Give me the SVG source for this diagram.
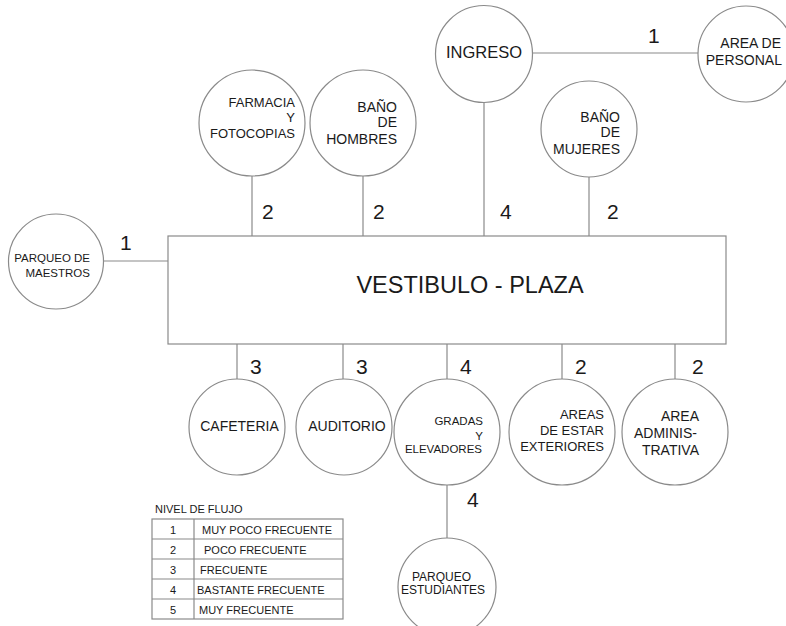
<svg xmlns="http://www.w3.org/2000/svg" width="786" height="626" viewBox="0 0 786 626">
<style>
.c{fill:#fff;stroke:#8a8a8a;stroke-width:1.2}
.l{stroke:#8a8a8a;stroke-width:1.2;fill:none}
text{font-family:"Liberation Sans",Arial,sans-serif;fill:#1a1a1a}
.n{font-size:21px}
.r{text-anchor:end}
.m{text-anchor:middle}
.lg{font-size:11px}
</style>
<rect width="786" height="626" fill="#fff"/>
<g id="connectors">
<line class="l" x1="252" y1="176" x2="252" y2="236"/>
<line class="l" x1="363" y1="176" x2="363" y2="236"/>
<line class="l" x1="484" y1="102" x2="484" y2="236"/>
<line class="l" x1="589" y1="177" x2="589" y2="236"/>
<line class="l" x1="533" y1="53" x2="698" y2="53"/>
<line class="l" x1="103" y1="261" x2="168" y2="261"/>
<line class="l" x1="237" y1="344" x2="237" y2="379"/>
<line class="l" x1="343" y1="344" x2="343" y2="379"/>
<line class="l" x1="447" y1="344" x2="447" y2="379"/>
<line class="l" x1="562" y1="344" x2="562" y2="379"/>
<line class="l" x1="675" y1="344" x2="675" y2="379"/>
<line class="l" x1="447" y1="485" x2="447" y2="538"/>
<text class="n" x="262" y="219">2</text>
<text class="n" x="373" y="219">2</text>
<text class="n" x="500" y="219">4</text>
<text class="n" x="607" y="219">2</text>
<text class="n" x="648" y="43">1</text>
<text class="n" x="120" y="250">1</text>
<text class="n" x="250" y="374">3</text>
<text class="n" x="356" y="374">3</text>
<text class="n" x="460" y="374">4</text>
<text class="n" x="575" y="374">2</text>
<text class="n" x="692" y="374">2</text>
<text class="n" x="467" y="507">4</text>
</g>
<g id="vestibulo">
<rect class="c" x="168" y="236" width="558" height="108"/>
<text x="470" y="293" class="m" style="font-size:23.5px">VESTIBULO - PLAZA</text>
</g>
<g id="farmacia">
<circle class="c" cx="252" cy="123" r="53"/>
<text class="r" x="295" y="107" style="font-size:13px">FARMACIA</text>
<text class="r" x="295" y="122" style="font-size:13px">Y</text>
<text class="r" x="295" y="138" style="font-size:13px">FOTOCOPIAS</text>
</g>
<g id="bano-hombres">
<circle class="c" cx="363" cy="123" r="53"/>
<text class="r" x="397" y="112" style="font-size:14px">BAÑO</text>
<text class="r" x="397" y="127" style="font-size:14px">DE</text>
<text class="r" x="397" y="144" style="font-size:14px">HOMBRES</text>
</g>
<g id="ingreso">
<circle class="c" cx="484" cy="54" r="48.5"/>
<text class="m" x="484" y="58" style="font-size:16.5px">INGRESO</text>
</g>
<g id="area-personal">
<circle class="c" cx="746" cy="54" r="48"/>
<text class="r" x="781" y="48" style="font-size:14px">AREA DE</text>
<text class="r" x="782" y="65" style="font-size:14px">PERSONAL</text>
</g>
<g id="bano-mujeres">
<circle class="c" cx="589" cy="129" r="48"/>
<text class="r" x="620" y="122" style="font-size:14px">BAÑO</text>
<text class="r" x="620" y="137" style="font-size:14px">DE</text>
<text class="r" x="620" y="154" style="font-size:14px">MUJERES</text>
</g>
<g id="parqueo-maestros">
<circle class="c" cx="56" cy="261.5" r="47.5"/>
<text class="r" x="90" y="262" style="font-size:11.5px">PARQUEO DE</text>
<text class="r" x="90" y="277" style="font-size:11.5px">MAESTROS</text>
</g>
<g id="cafeteria">
<circle class="c" cx="237" cy="427" r="48"/>
<text class="m" x="239.5" y="431" style="font-size:14px">CAFETERIA</text>
</g>
<g id="auditorio">
<circle class="c" cx="344" cy="427" r="48"/>
<text class="m" x="347" y="431" style="font-size:14px">AUDITORIO</text>
</g>
<g id="gradas">
<circle class="c" cx="447" cy="432" r="53"/>
<text class="r" x="483" y="425" style="font-size:11.5px">GRADAS</text>
<text class="r" x="483" y="440" style="font-size:11.5px">Y</text>
<text class="r" x="482" y="453" style="font-size:11.5px">ELEVADORES</text>
</g>
<g id="areas-estar">
<circle class="c" cx="562" cy="432" r="53"/>
<text class="r" x="604" y="419" style="font-size:13px">AREAS</text>
<text class="r" x="604" y="435" style="font-size:13px">DE ESTAR</text>
<text class="r" x="604" y="451" style="font-size:13px">EXTERIORES</text>
</g>
<g id="area-administrativa">
<circle class="c" cx="675" cy="432" r="53"/>
<text class="r" x="699" y="421" style="font-size:14px">AREA</text>
<text class="r" x="697" y="438" style="font-size:14px">ADMINIS-</text>
<text class="r" x="699" y="455" style="font-size:14px">TRATIVA</text>
</g>
<g id="parqueo-estudiantes">
<circle class="c" cx="447" cy="587" r="49"/>
<text class="r" x="471" y="581" style="font-size:12px">PARQUEO</text>
<text class="r" x="485" y="594" style="font-size:12px">ESTUDIANTES</text>
</g>
<g id="legend">
<text class="lg" x="155" y="513">NIVEL DE FLUJO</text>
<rect class="l" x="152" y="519" width="191" height="100"/>
<line class="l" x1="194" y1="519" x2="194" y2="619"/>
<line class="l" x1="152" y1="539" x2="343" y2="539"/>
<line class="l" x1="152" y1="559" x2="343" y2="559"/>
<line class="l" x1="152" y1="579" x2="343" y2="579"/>
<line class="l" x1="152" y1="599" x2="343" y2="599"/>
<text class="lg m" x="173" y="534">1</text>
<text class="lg m" x="173" y="554">2</text>
<text class="lg m" x="173" y="574">3</text>
<text class="lg m" x="173" y="594">4</text>
<text class="lg m" x="173" y="614">5</text>
<text class="lg" x="202" y="534">MUY POCO FRECUENTE</text>
<text class="lg" x="204" y="554">POCO FRECUENTE</text>
<text class="lg" x="200" y="574">FRECUENTE</text>
<text class="lg" x="197" y="594">BASTANTE FRECUENTE</text>
<text class="lg" x="199" y="614">MUY FRECUENTE</text>
</g>
</svg>
